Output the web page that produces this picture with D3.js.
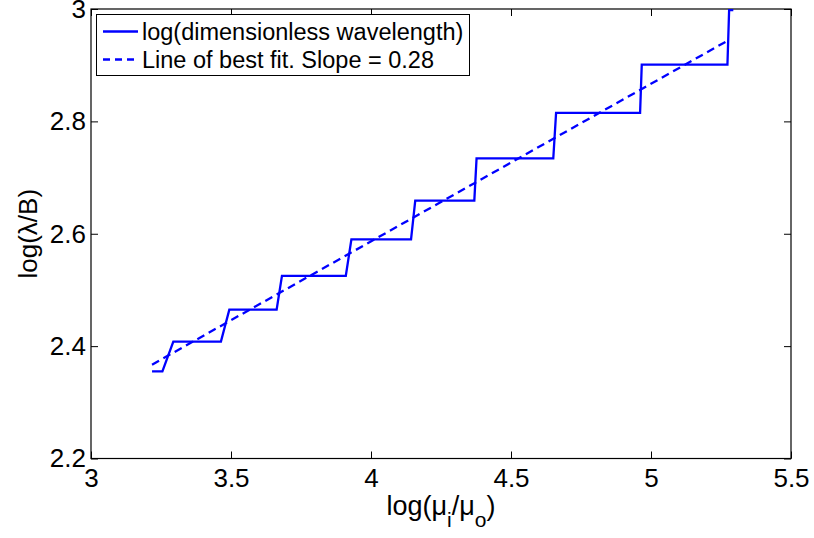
<!DOCTYPE html>
<html>
<head>
<meta charset="utf-8">
<script src="https://cdn.jsdelivr.net/npm/d3@7"></script>
<style>
  body { margin: 0; background: #fff; }
  svg { font-family: "Liberation Sans", Arial, Helvetica, sans-serif; }
</style>
</head>
<body>
<div id="chart"></div>
<script>
(function() {
const width = 814,
      height = 538

// stepped curve
const stepX = [3.218, 3.255, 3.294, 3.464, 3.494, 3.663, 3.682, 3.910, 3.930, 4.143,
               4.158, 4.369, 4.377, 4.651, 4.661, 4.961, 4.967, 5.273, 5.279, 5.294]
const stepY = [2.355, 2.355, 2.408, 2.408, 2.465, 2.465, 2.525, 2.525, 2.590, 2.590,
               2.659, 2.659, 2.734, 2.734, 2.815, 2.815, 2.901, 2.901, 2.998, 2.998]

// best fit line end points
const fitX = [3.218, 5.273]
const fitY = [2.367, 2.9435]

const xTicks = [3, 3.5, 4, 4.5, 5, 5.5]
const yTicks = [2.2, 2.4, 2.6, 2.8, 3]
const legendLabels = ['log(dimensionless wavelength)', 'Line of best fit. Slope = 0.28']

const margin = {left: 91, right: 23, top: 9, bottom: 80}
const color = '#0000ff'

const svg = d3.select('#chart')
  .append('svg')
  .attr('width', width)
  .attr('height', height)

const x = d3.scaleLinear()
  .domain([3, 5.5])
  .range([margin.left, width - margin.right])

const y = d3.scaleLinear()
  .domain([2.2, 3])
  .range([height - margin.bottom + 0.5, margin.top])

const tickLen = 7

// frame
svg.append('rect')
  .attr('x', x(3))
  .attr('y', y(3))
  .attr('width', x(5.5) - x(3))
  .attr('height', y(2.2) - y(3))
  .attr('fill', 'none')
  .attr('stroke', '#000')
  .attr('stroke-width', 1.2)

// axes, MATLAB style ticks pointing inwards on all four sides
const xAxis = svg.append('g')
  .attr('transform', 'translate(0,' + y(2.2) + ')')
  .call(d3.axisBottom(x).tickValues(xTicks).tickSize(-tickLen).tickPadding(tickLen + 3)
    .tickFormat(d3.format('')))
xAxis.select('.domain').remove()
xAxis.selectAll('text').attr('font-size', 26).attr('fill', '#000')
  .attr('font-family', '"Liberation Sans", Arial, sans-serif')

const xTop = svg.append('g')
  .attr('transform', 'translate(0,' + y(3) + ')')
  .call(d3.axisTop(x).tickValues(xTicks).tickSize(-tickLen).tickFormat(''))
xTop.select('.domain').remove()

const yAxis = svg.append('g')
  .attr('transform', 'translate(' + x(3) + ',0)')
  .call(d3.axisLeft(y).tickValues(yTicks).tickSize(-tickLen).tickPadding(5)
    .tickFormat(d3.format('')))
yAxis.select('.domain').remove()
yAxis.selectAll('text').attr('font-size', 26).attr('fill', '#000')
  .attr('font-family', '"Liberation Sans", Arial, sans-serif')

const yRight = svg.append('g')
  .attr('transform', 'translate(' + x(5.5) + ',0)')
  .call(d3.axisRight(y).tickValues(yTicks).tickSize(-tickLen).tickFormat(''))
yRight.select('.domain').remove()

svg.selectAll('.tick line').attr('stroke', '#000')

// lines
const stepData = stepX.map(function(d, i) { return [d, stepY[i]] })
const fitData = fitX.map(function(d, i) { return [d, fitY[i]] })

const line = d3.line()
  .x(function(d) { return x(d[0]) })
  .y(function(d) { return y(d[1]) })

svg.append('path')
  .datum(fitData)
  .attr('d', line)
  .attr('fill', 'none')
  .attr('stroke', color)
  .attr('stroke-width', 2.3)
  .attr('stroke-dasharray', '8,5')

svg.append('path')
  .datum(stepData)
  .attr('d', line)
  .attr('fill', 'none')
  .attr('stroke', color)
  .attr('stroke-width', 2.3)

// axis labels
const xLabel = svg.append('text')
  .attr('x', 441)
  .attr('y', 515)
  .attr('text-anchor', 'middle')
  .attr('font-size', 27)
xLabel.append('tspan').text('log(\u03bc')
xLabel.append('tspan').attr('font-size', 21).attr('dy', 12).text('i')
xLabel.append('tspan').attr('dy', -12).text('/\u03bc')
xLabel.append('tspan').attr('font-size', 21).attr('dy', 12).text('o')
xLabel.append('tspan').attr('dy', -12).text(')')

svg.append('text')
  .attr('transform', 'translate(37,' + y(2.6) + ') rotate(-90)')
  .attr('text-anchor', 'middle')
  .attr('font-size', 26)
  .text('log(\u03bb/B)')

// legend
const legend = svg.append('g')
legend.append('rect')
  .attr('x', 96.5)
  .attr('y', 14.5)
  .attr('width', 373)
  .attr('height', 61)
  .attr('fill', '#fff')
  .attr('stroke', '#000')
  .attr('stroke-width', 1)

const rows = legend.selectAll('.row')
  .data(legendLabels)
  .enter().append('g')
  .attr('class', 'row')
  .attr('transform', function(d, i) { return 'translate(0,' + (31.5 + i * 28) + ')' })

rows.append('line')
  .attr('x1', 103)
  .attr('x2', 138)
  .attr('stroke', color)
  .attr('stroke-width', 2.3)
  .attr('stroke-dasharray', function(d, i) { return i === 1 ? '7,5' : null })

rows.append('text')
  .attr('x', 142)
  .attr('dy', '0.35em')
  .attr('font-size', 23.5)
  .text(function(d) { return d })
})()
</script>
</body>
</html>
